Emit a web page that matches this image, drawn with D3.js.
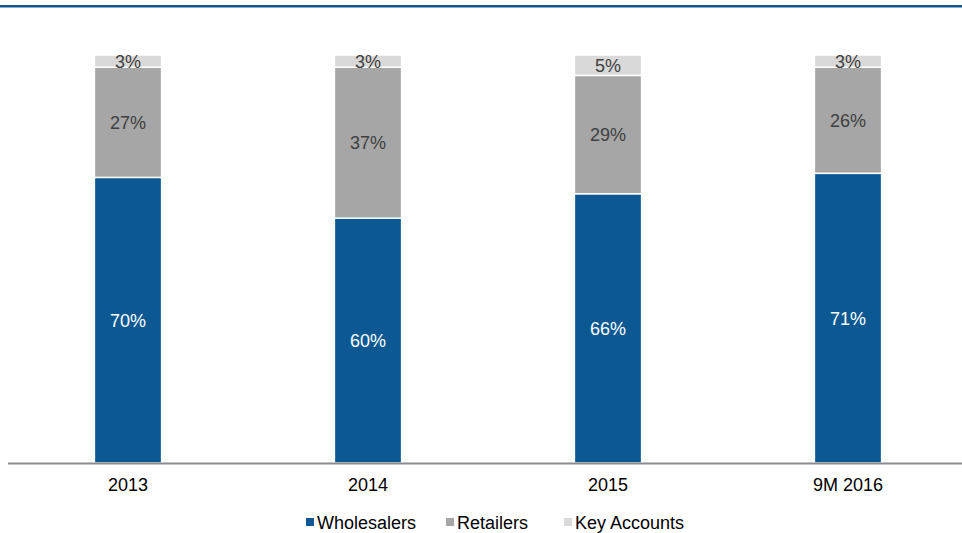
<!DOCTYPE html>
<html>
<head>
<meta charset="utf-8">
<script src="https://cdn.jsdelivr.net/npm/d3@7/dist/d3.min.js"></script>
<style>
  html, body { margin: 0; padding: 0; background: #fff; }
  svg { display: block; font-family: Arial, "Liberation Sans", sans-serif; }
</style>
</head>
<body>
<svg id="chart" width="962" height="533"></svg>
<script>
// Sales split by channel, % of total
const categories = ["2013", "2014", "2015", "9M 2016"];
const seriesNames = ["Wholesalers", "Retailers", "Key Accounts"];
const wholesalers = [70, 60, 66, 71];
const retailers = [27, 37, 29, 26];
const keyAccounts = [3, 3, 5, 3];
const colors = ["#0b5892", "#a6a6a6", "#d9d9d9"];
const labelColors = ["#ffffff", "#404040", "#404040"];

const rows = categories.map((c, i) => ({
  cat: c,
  Wholesalers: wholesalers[i],
  Retailers: retailers[i],
  "Key Accounts": keyAccounts[i]
}));

const svg = d3.select("#chart");
const W = 962;
const FONT = 18;
const baseY = 463;

// Header rule
svg.append("rect").attr("x", 0).attr("y", 5).attr("width", W).attr("height", 2.5).attr("fill", "#0b5892");

const x = d3.scaleBand().domain(categories).range([8, 968]).paddingInner(0.72).paddingOuter(0.36);
const y = d3.scaleLinear().domain([0, 100]).range([baseY, 55]);

const stacked = d3.stack().keys(seriesNames)(rows);

const layers = svg.append("g").selectAll("g").data(stacked).join("g")
  .attr("fill", (d, i) => colors[i]);

layers.selectAll("rect").data(d => d).join("rect")
  .attr("x", d => x(d.data.cat))
  .attr("width", x.bandwidth())
  .attr("y", d => y(d[1]))
  .attr("height", d => y(d[0]) - y(d[1]))
  .attr("stroke", "#fff")
  .attr("stroke-width", 1.5);

// Value labels
stacked.forEach((layer, li) => {
  svg.append("g").selectAll("text").data(layer).join("text")
    .attr("x", d => x(d.data.cat) + x.bandwidth() / 2)
    .attr("y", d => (y(d[0]) + y(d[1])) / 2)
    .attr("dy", "0.36em")
    .attr("text-anchor", "middle")
    .attr("font-size", FONT)
    .attr("fill", labelColors[li])
    .text(d => (d[1] - d[0]) + "%");
});

// Category axis
const axis = svg.append("g").attr("transform", `translate(0,${baseY})`)
  .call(d3.axisBottom(x).tickSize(0));
axis.select(".domain").remove();
axis.selectAll("text")
  .attr("y", 28).attr("dy", 0)
  .attr("font-size", FONT).attr("fill", "#000")
  .attr("font-family", "Arial, 'Liberation Sans', sans-serif");
svg.append("line").attr("x1", 8).attr("x2", W).attr("y1", baseY + 0.5).attr("y2", baseY + 0.5)
  .attr("stroke", "#8c8c8c").attr("stroke-width", 2);

// Legend
const legendX = [306, 446, 564];
const legend = svg.append("g").selectAll("g").data(seriesNames).join("g")
  .attr("transform", (d, i) => `translate(${legendX[i]},522)`);
legend.append("rect").attr("x", 0).attr("y", -4).attr("width", 8).attr("height", 8)
  .attr("fill", (d, i) => colors[i]);
legend.append("text").attr("x", 11).attr("y", 7)
  .attr("font-size", FONT).attr("fill", "#000").text(d => d);
</script>
</body>
</html>
